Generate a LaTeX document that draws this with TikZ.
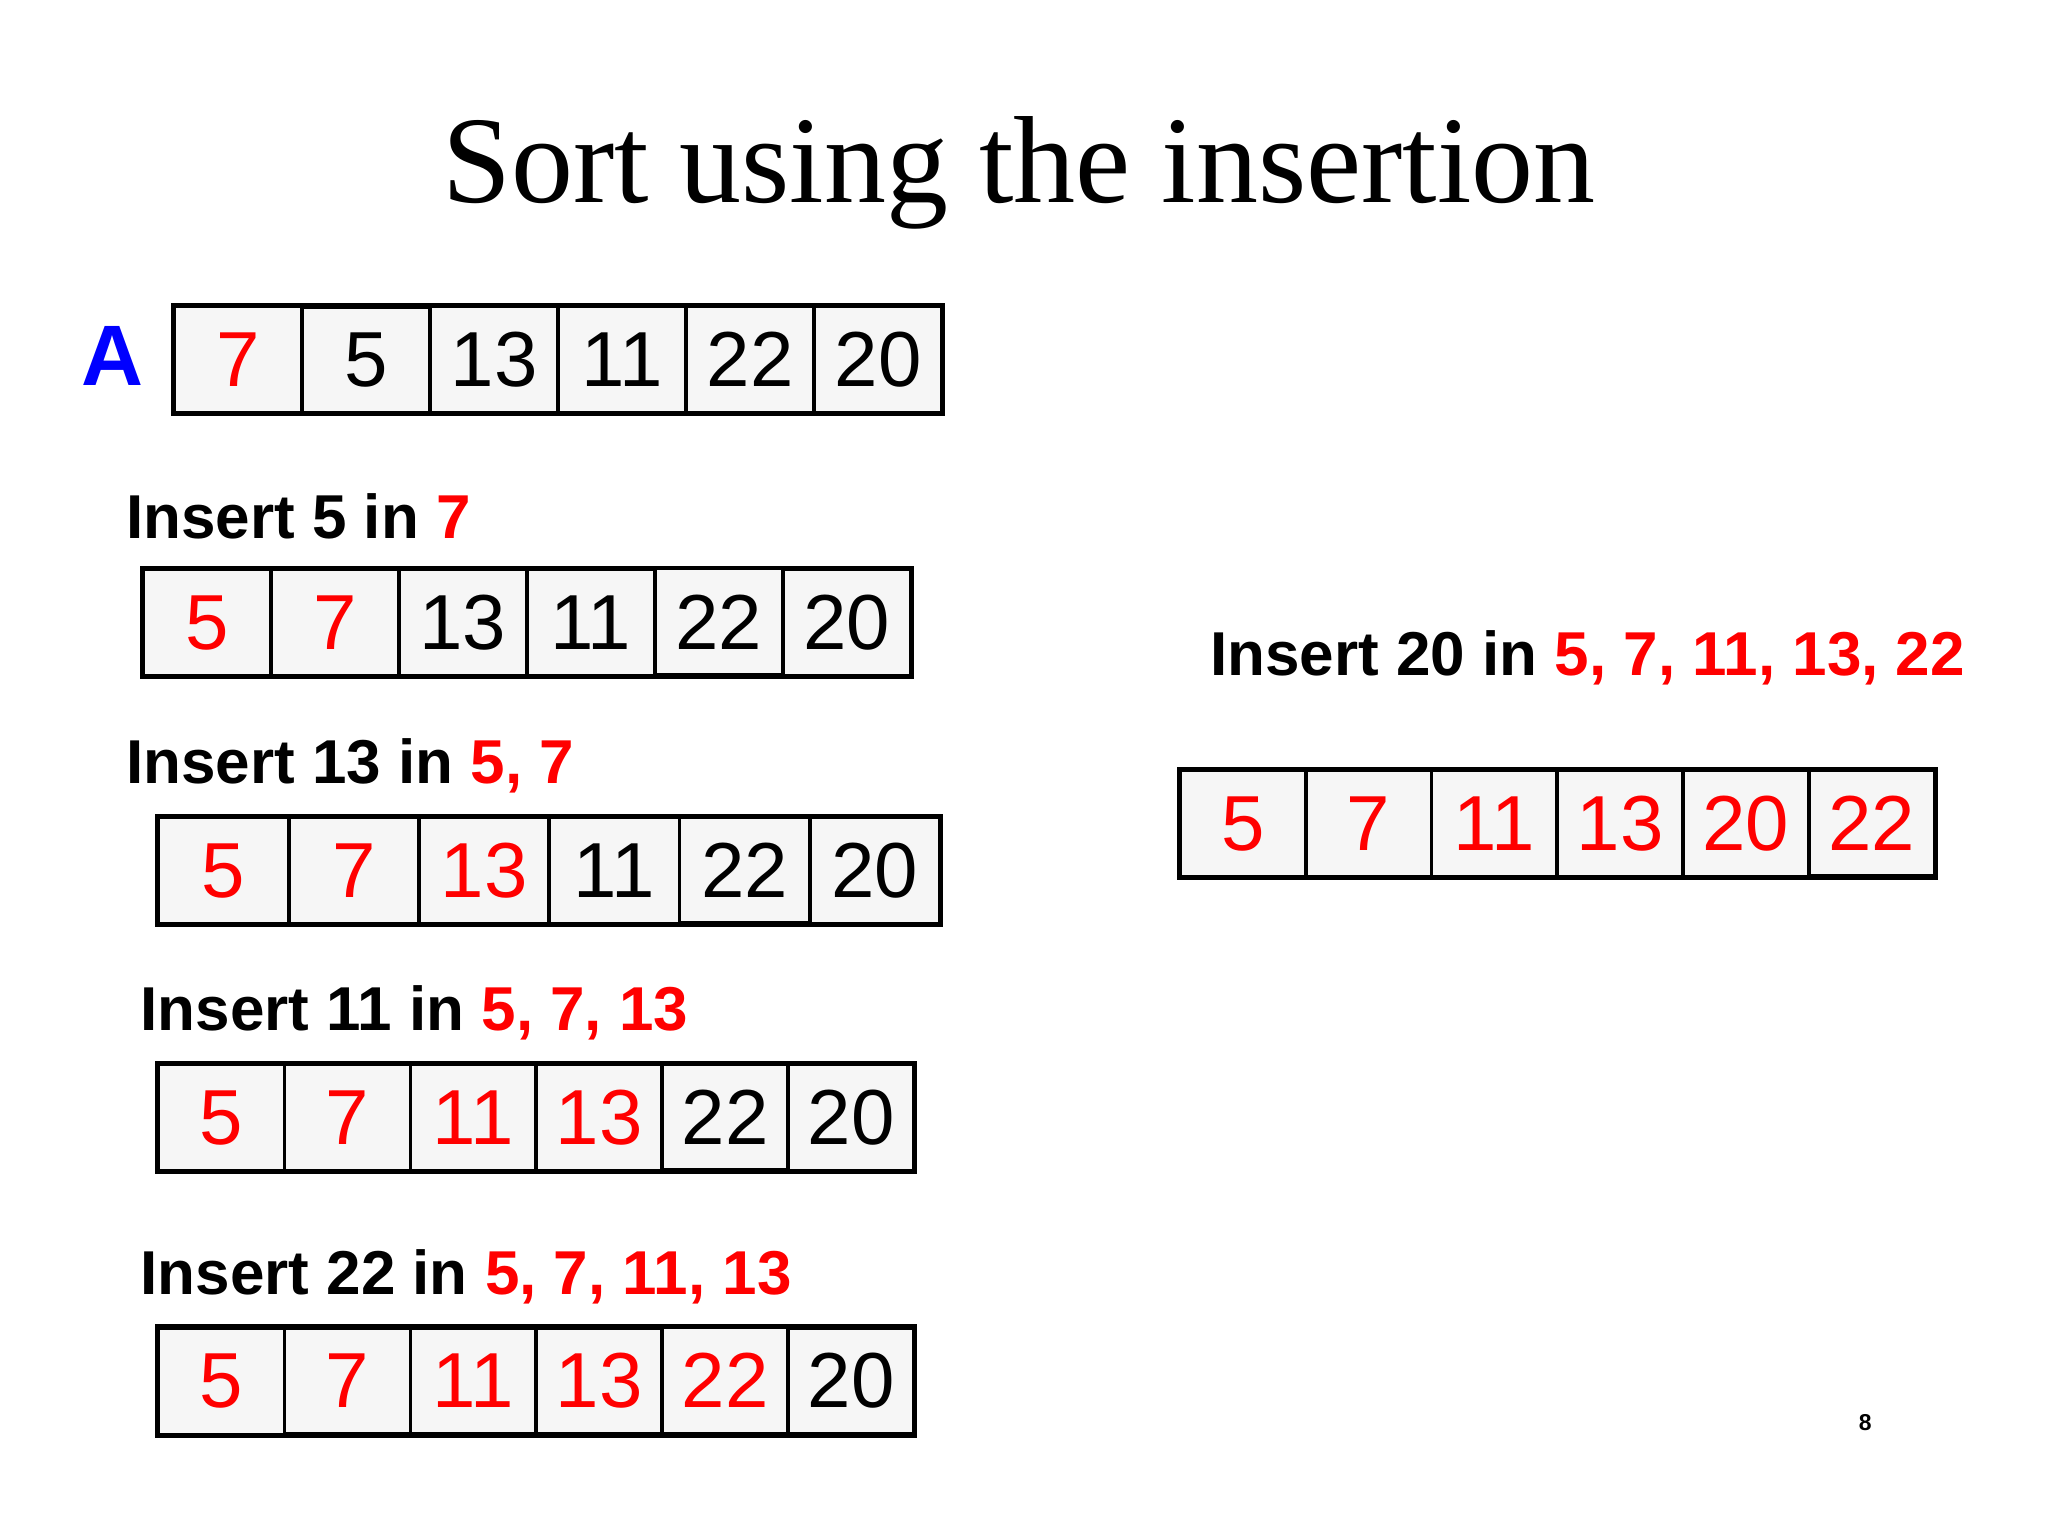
\documentclass[tikz,border=0pt]{standalone}
\usepackage{fontspec}
\setmainfont{Liberation Serif}
\setsansfont{Liberation Sans}
\usepackage{tikz}
\usetikzlibrary{matrix,positioning}

\definecolor{cellgray}{RGB}{246,246,246}
\newcommand{\numfont}{\sffamily\fontsize{17}{20}\selectfont}
\newcommand{\stepfont}{\sffamily\bfseries\fontsize{13.5}{16}\selectfont}
\newcommand{\hot}[1]{\textcolor{red}{#1}}

\tikzset{
	cell/.style={draw, line width=0.4pt, fill=cellgray, inner sep=0pt,
		minimum height=0.80cm, font=\numfont},
	arraybox/.style={matrix of nodes, draw, line width=1.35pt, inner sep=0pt,
		column sep=0pt, anchor=north west, nodes={cell, minimum width=#1}},
	hot/.style={text=red},
	steplabel/.style={anchor=base west, inner sep=0pt, font=\stepfont},
}

\begin{document}
\begin{tikzpicture}[x=1cm,y=1cm]
	\useasboundingbox (0,0) rectangle (15.68,-11.76);

	\node[anchor=base, inner sep=0pt, font=\fontsize{27}{32}\selectfont] (title)
		at (7.80,-1.55) {Sort using the insertion};

	\node[anchor=base west, inner sep=0pt, text=blue,
		font=\sffamily\bfseries\fontsize{18.7}{22}\selectfont] (name) at (0.62,-2.95) {A};
	\matrix (a0) [arraybox=0.966cm] at (1.31,-2.32)
	{
		|[hot]| 7 & 5 & 13 & 11 & 22 & 20 \\
	};

	\node[steplabel] (s1) at (0.96,-4.12) {Insert 5 in \hot{7}};
	\matrix (a1) [arraybox=0.966cm] at (1.07,-4.33)
	{
		|[hot]| 5 & |[hot]| 7 & 13 & 11 & 22 & 20 \\
	};

	\node[steplabel] (s2) at (0.96,-6.00) {Insert 13 in \hot{5, 7}};
	\matrix (a2) [arraybox=0.983cm] at (1.19,-6.23)
	{
		|[hot]| 5 & |[hot]| 7 & |[hot]| 13 & 11 & 22 & 20 \\
	};

	\node[steplabel] (s3) at (1.07,-7.89) {Insert 11 in \hot{5, 7, 13}};
	\matrix (a3) [arraybox=0.950cm] at (1.19,-8.12)
	{
		|[hot]| 5 & |[hot]| 7 & |[hot]| 11 & |[hot]| 13 & 22 & 20 \\
	};

	\node[steplabel] (s4) at (1.07,-9.91) {Insert 22 in \hot{5, 7, 11, 13}};
	\matrix (a4) [arraybox=0.950cm] at (1.19,-10.14)
	{
		|[hot]| 5 & |[hot]| 7 & |[hot]| 11 & |[hot]| 13 & |[hot]| 22 & 20 \\
	};

	\node[steplabel] (s5) at (9.26,-5.17) {Insert 20 in \hot{5, 7, 11, 13, 22}};
	\matrix (a5) [arraybox=0.949cm] at (9.01,-5.87)
	{
		|[hot]| 5 & |[hot]| 7 & |[hot]| 11 & |[hot]| 13 & |[hot]| 20 & |[hot]| 22 \\
	};

	\node[inner sep=0pt, font=\sffamily\bfseries\fontsize{5}{6}\selectfont] (page)
		at (14.28,-10.89) {8};
\end{tikzpicture}
\end{document}
